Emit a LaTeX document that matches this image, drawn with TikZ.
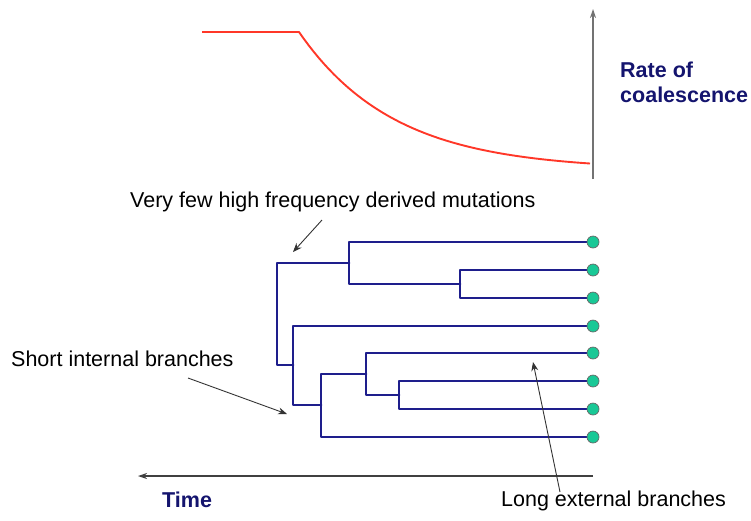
\documentclass[tikz,border=0pt]{standalone}
\usepackage{fontspec}
\setmainfont{Liberation Sans}
\usepackage{tkz-euclide}
\usetikzlibrary{arrows.meta}
\definecolor{treeblue}{RGB}{30,30,140}
\definecolor{labelblue}{RGB}{20,20,110}
\definecolor{tipgreen}{RGB}{25,200,150}
\definecolor{ratered}{RGB}{255,55,40}

\begin{document}
\begin{tikzpicture}[x=1pt,y=-1pt,
    every node/.style={font=\fontsize{21.5}{25}\selectfont,inner sep=0pt},
    branch/.style={treeblue,line width=2.8pt,line join=round,line cap=round},
    pointer/.style={black!80,line width=0.9pt,-{Stealth[length=9pt,width=7pt]}},
    axis/.style={line width=1.1pt,-{Stealth[length=9pt,width=6pt]}}]
                \useasboundingbox (0,0) rectangle (751,520);
                \tkzDefPoints{593/242/L1,593/270/L2,593/298/L3,593/326/L4,
                              593/353/L5,593/381/L6,593/409/L7,593/437/L8}
                \tkzDefPoints{460/284/A,349/263/B,399/395/C,366/374/D,
                              321/405/E,293/365/F,277/314/R}
                \tkzDefPoints{202/32/H,299/32/K,593/179/Y,593/9/Z,593/476/T,138/476/S}
                \tkzDefPoints{322/220/P,293/252/Q,188/378/U,287/414/V,560/492/M,533/362/N}
                % rate curve and axes
                \draw[ratered,line width=1.9pt,line join=round] (H) -- (K)
                      -- plot[domain=299:590,samples=60] (\x,{170-138*exp(-0.0105*(\x-299))});
                \draw[axis,black!55] (Y) -- (Z);
                \draw[axis,black!75] (T) -- (S);
                % tree
                \draw[branch] (L2) -| (A) |- (L3);
                \draw[branch] (L1) -| (B) |- (A);
                \draw[branch] (L6) -| (C) |- (L7);
                \draw[branch] (L5) -| (D) |- (C);
                \draw[branch] (D) -| (E) |- (L8);
                \draw[branch] (L4) -| (F) |- (E);
                \draw[branch] (B) -| (R) |- (F);
                \foreach \p in {L1,L2,L3,L4,L5,L6,L7,L8}
                    \draw[fill=tipgreen,draw=black!60,line width=0.7pt] (\p) circle (6);
                % labels
                \node[anchor=base west] (few) at (130,207) {Very few high frequency derived mutations};
                \node[anchor=base west] (short) at (11,366) {Short internal branches};
                \node[anchor=base west] (long) at (501,506) {Long external branches};
                \node[anchor=base west,text=labelblue,font=\fontsize{21.5}{25}\selectfont\bfseries] (time) at (162,507) {Time};
                \node[anchor=north west,align=left,text=labelblue,font=\fontsize{21.5}{25}\selectfont\bfseries] (rate) at (620,62) {Rate of\\coalescence};
                \draw[pointer] (P) -- (Q);
                \draw[pointer] (U) -- (V);
                \draw[pointer] (M) -- (N);
            \end{tikzpicture}
\end{document}
